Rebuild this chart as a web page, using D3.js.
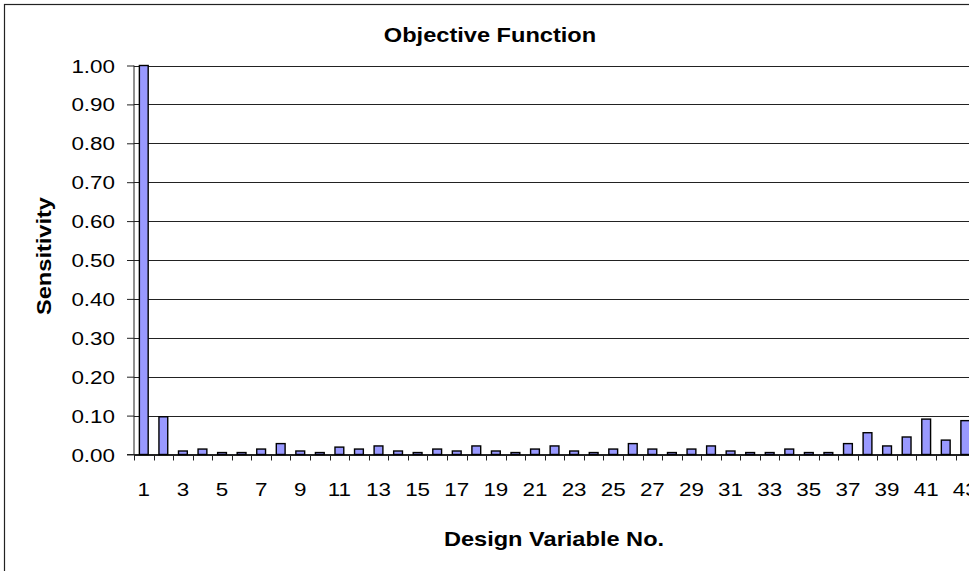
<!DOCTYPE html>
<html>
<head>
<meta charset="utf-8">
<title>Objective Function</title>
<script src="https://cdn.jsdelivr.net/npm/d3@7"></script>
<style>
    body { margin: 0; background: #fff; overflow: hidden; }
    text { font-family: "Liberation Sans", Arial, sans-serif; fill: #000; }
</style>
</head>
<body>
<svg id="chart" width="969" height="571"></svg>
<script>
const categories = [1, 2, 3, 4, 5, 6, 7, 8, 9, 10, 11, 12, 13, 14, 15, 16, 17, 18, 19, 20, 21,
    22, 23, 24, 25, 26, 27, 28, 29, 30, 31, 32, 33, 34, 35, 36, 37, 38, 39, 40, 41, 42, 43];
const sensitivity = [1.00, 0.097, 0.009, 0.014, 0.005, 0.005, 0.014, 0.028, 0.009, 0.005, 0.019,
    0.014, 0.022, 0.009, 0.005, 0.014, 0.009, 0.022, 0.009, 0.005, 0.014, 0.022, 0.009, 0.005,
    0.014, 0.028, 0.014, 0.005, 0.014, 0.022, 0.009, 0.005, 0.005, 0.014, 0.005, 0.005, 0.028,
    0.056, 0.022, 0.045, 0.091, 0.037, 0.087];
const xTickLabels = [1, 3, 5, 7, 9, 11, 13, 15, 17, 19, 21, 23, 25, 27, 29, 31, 33, 35, 37, 39, 41, 43];
const yTicks = [0, 0.1, 0.2, 0.3, 0.4, 0.5, 0.6, 0.7, 0.8, 0.9, 1.0];

const svg = d3.select("#chart");
const stretch = 1.18; // text in the picture is drawn a bit wide

const plotLeft = 134, plotTop = 65.5, plotBottom = 454.5, step = 19.56;
const plotRight = plotLeft + step * categories.length;

const x = d3.scaleBand().domain(categories).range([plotLeft, plotRight]).paddingInner(0.55).paddingOuter(0.275);
const xb = d3.scaleBand().domain(categories).range([plotLeft, plotRight]);
const y = d3.scaleLinear().domain([0, 1]).range([plotBottom, plotTop]);

function label(g, px, py, str, opts) {
    opts = opts || {};
    let t = g.append("text")
        .attr("transform", `translate(${px},${py})` + (opts.rotate ? ` rotate(${opts.rotate})` : "") + ` scale(${stretch},1)`)
        .attr("text-anchor", opts.anchor || "middle")
        .style("font-size", (opts.size || 19) + "px")
        .text(str);
    if (opts.bold) t.style("font-weight", "bold");
    return t;
}

// chart area border
svg.append("rect")
    .attr("x", 4.5).attr("y", 4.5)
    .attr("width", 972).attr("height", 580)
    .attr("fill", "#fff").attr("stroke", "#222").attr("stroke-width", 1.2);

// gridlines
svg.append("g")
    .selectAll("line")
    .data(yTicks)
    .join("line")
    .attr("x1", plotLeft).attr("x2", plotRight)
    .attr("y1", d => Math.round(y(d)) + 0.5).attr("y2", d => Math.round(y(d)) + 0.5)
    .attr("stroke", "#222").attr("stroke-width", 1);

// y axis
const yAxis = d3.axisLeft(y).tickValues(yTicks).tickSize(7).tickFormat("");
svg.append("g")
    .attr("transform", `translate(${plotLeft},0)`)
    .call(yAxis)
    .call(g => g.select(".domain").attr("stroke", "#222").attr("d", `M0,${plotTop}V${plotBottom}`))
    .call(g => g.selectAll(".tick line").attr("stroke", "#222"));

const yLabels = svg.append("g");
yTicks.forEach(v => label(yLabels, 115, y(v) + 7, d3.format(".2f")(v), { anchor: "end" }));

// x axis, ticks between categories
svg.append("g")
    .selectAll("line")
    .data(categories.concat([null]))
    .join("line")
    .attr("x1", (d, i) => Math.round(plotLeft + i * xb.step()) + 0.5)
    .attr("x2", (d, i) => Math.round(plotLeft + i * xb.step()) + 0.5)
    .attr("y1", plotBottom).attr("y2", plotBottom + 6)
    .attr("stroke", "#222");
svg.append("line")
    .attr("x1", plotLeft - 7).attr("x2", plotRight)
    .attr("y1", plotBottom).attr("y2", plotBottom)
    .attr("stroke", "#222").attr("stroke-width", 1.2);

const xLabels = svg.append("g");
xTickLabels.forEach(c => label(xLabels, xb(c) + xb.bandwidth() / 2, 496, c));

// bars
svg.append("g")
    .selectAll("rect")
    .data(categories)
    .join("rect")
    .attr("x", d => x(d))
    .attr("y", (d, i) => y(sensitivity[i]))
    .attr("width", x.bandwidth())
    .attr("height", (d, i) => plotBottom - y(sensitivity[i]))
    .attr("fill", "#9999ff")
    .attr("stroke", "#000")
    .attr("stroke-width", 1.4);

// titles
label(svg, 490, 42, "Objective Function", { bold: true, size: 20 });
label(svg, 554, 546, "Design Variable No.", { bold: true, size: 20 });
label(svg, 51, 256, "Sensitivity", { bold: true, size: 20, rotate: -90 });
</script>
</body>
</html>
